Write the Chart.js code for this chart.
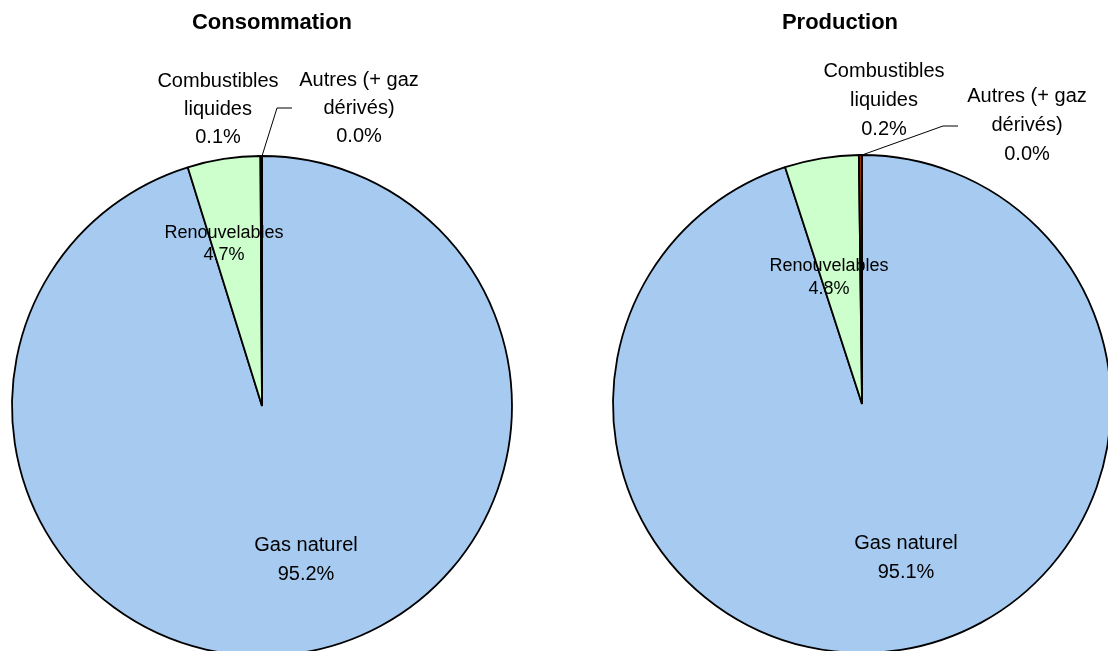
<!DOCTYPE html>
<html>
<head>
<meta charset="utf-8">
<script src="https://cdn.jsdelivr.net/npm/chart.js@4/dist/chart.umd.min.js"></script>
<style>
  html, body { margin: 0; padding: 0; width: 1108px; height: 651px; overflow: hidden; background: #fff; }
  canvas { position: absolute; left: 0; top: 0; }
</style>
</head>
<body>
<canvas id="cons" width="1140" height="700"></canvas>
<canvas id="prod" width="1140" height="700"></canvas>
<script>
// Energy mix shares (%)
const categories = ['Gas naturel', 'Renouvelables', 'Combustibles liquides', 'Autres (+ gaz dérivés)'];
const labelLines = [['Gas naturel'], ['Renouvelables'], ['Combustibles', 'liquides'], ['Autres (+ gaz', 'dérivés)']];
const consommation = [95.2, 4.7, 0.1, 0.0];
const production = [95.1, 4.8, 0.2, 0.0];
const chartTitles = ['Consommation', 'Production'];
const sliceColors = ['#A6CAF0', '#CCFFCC', '#993300', '#333399'];

const FONT = '"Liberation Sans", Arial, sans-serif';
const CW = 1140, CH = 700;

// Annotation plugin: title, slice labels and the leader line for the tiny slice
const pieText = {
  id: 'pieText',
  afterDatasetsDraw(chart, args, opts) {
    const ctx = chart.ctx;
    const meta = chart.getDatasetMeta(0);
    const arc0 = meta.data[0];
    const cx = arc0.x, cy = arc0.y, R = arc0.outerRadius;
    const values = chart.data.datasets[0].data;
    ctx.save();
    ctx.fillStyle = '#000';
    ctx.textAlign = 'center';
    ctx.textBaseline = 'middle';

    // title
    ctx.font = 'bold 22px ' + FONT;
    ctx.fillText(opts.title, opts.titleX, opts.titleY);

    // slice labels
    opts.spots.forEach((s, i) => {
      const lines = labelLines[i].concat([values[i].toFixed(1) + '%']);
      ctx.font = s.size + 'px ' + FONT;
      const x = cx + s.dx;
      const y0 = cy + s.dy - (lines.length - 1) * s.lh / 2;
      lines.forEach((t, k) => ctx.fillText(t, x, y0 + k * s.lh));
    });

    // leader line from the last slice
    const a = meta.data[3].startAngle;
    ctx.strokeStyle = '#000';
    ctx.lineWidth = 1;
    ctx.beginPath();
    ctx.moveTo(cx + Math.cos(a) * R, cy + Math.sin(a) * R);
    opts.leader.forEach(p => ctx.lineTo(cx + p[0], cy + p[1]));
    ctx.stroke();
    ctx.restore();
  }
};

function makePie(id, values, geo) {
  const pad = 3;
  return new Chart(document.getElementById(id), {
    type: 'pie',
    data: {
      labels: categories,
      datasets: [{
        data: values,
        backgroundColor: sliceColors,
        borderColor: '#000',
        borderWidth: 1.8
      }]
    },
    options: {
      responsive: false,
      animation: false,
      radius: geo.r,
      layout: {
        padding: {
          left: geo.cx - geo.r - pad,
          top: geo.cy - geo.r - pad,
          right: CW - (geo.cx + geo.r + pad),
          bottom: CH - (geo.cy + geo.r + pad)
        }
      },
      plugins: {
        legend: { display: false },
        tooltip: { enabled: false },
        pieText: geo.text
      }
    },
    plugins: [pieText]
  });
}

makePie('cons', consommation, {
  cx: 262, cy: 406, r: 250,
  text: {
    title: chartTitles[0], titleX: 272, titleY: 23,
    spots: [
      { dx: 44, dy: 154, size: 20, lh: 29 },
      { dx: -38, dy: -162, size: 18, lh: 22 },
      { dx: -44, dy: -297, size: 20, lh: 28 },
      { dx: 97, dy: -298, size: 20, lh: 28 }
    ],
    leader: [[15, -298], [30, -298]]
  }
});

makePie('prod', production, {
  cx: 862, cy: 404, r: 249,
  text: {
    title: chartTitles[1], titleX: 840, titleY: 23,
    spots: [
      { dx: 44, dy: 154, size: 20, lh: 29 },
      { dx: -33, dy: -126, size: 18, lh: 23 },
      { dx: 22, dy: -304, size: 20, lh: 29 },
      { dx: 165, dy: -279, size: 20, lh: 29 }
    ],
    leader: [[81, -278], [96, -278]]
  }
});
</script>
</body>
</html>
